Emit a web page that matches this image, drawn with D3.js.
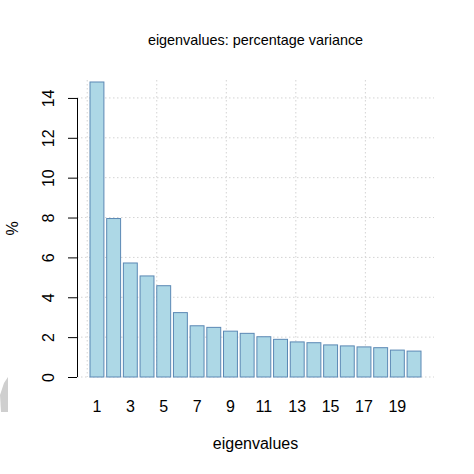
<!DOCTYPE html>
<html>
<head>
<meta charset="utf-8">
<script src="https://cdn.jsdelivr.net/npm/d3@7"></script>
<style>
  body { margin: 0; background: #fff; }
  text { font-family: "Liberation Sans", Arial, sans-serif; fill: #000; }
</style>
</head>
<body>
<script>
// eigenvalue index and percentage of variance
const eigenIndex = d3.range(1, 21);
const percentVariance = [14.8, 7.95, 5.72, 5.07, 4.58, 3.23, 2.57, 2.49, 2.3, 2.19,
                         2.02, 1.89, 1.76, 1.72, 1.61, 1.56, 1.51, 1.47, 1.35, 1.3];
const yTicks = [0, 2, 4, 6, 8, 10, 12, 14];
const xLabelIndex = [1, 3, 5, 7, 9, 11, 13, 15, 17, 19];
const gridUnits = [0, 5, 10, 15, 20];   // grid positions in barplot units

const width = 474, height = 474;

const svg = d3.select("body").append("svg")
    .attr("width", width)
    .attr("height", height);

// plot region
const plotLeft = 77, plotRight = 434, plotTop = 80, plotBottom = 377;

// bars: width 1, space 0.2 like R barplot
const xBand = d3.scaleBand()
    .domain(eigenIndex)
    .range([90, 421])
    .paddingInner(0.2 / 1.2)
    .paddingOuter(0);

const xUnit = d3.scaleLinear()
    .domain([0.2, 24])
    .range([90, 421]);

const yScale = d3.scaleLinear()
    .domain([0, 14.9])
    .range([plotBottom, plotTop]);

// grid
const grid = svg.append("g")
    .attr("stroke", "#d3d3d3")
    .attr("stroke-dasharray", "1.5,2.5")
    .attr("stroke-width", 1);

grid.selectAll("line.h")
    .data(yTicks)
    .enter().append("line")
    .attr("class", "h")
    .attr("x1", plotLeft)
    .attr("x2", plotRight)
    .attr("y1", d => yScale(d))
    .attr("y2", d => yScale(d));

grid.selectAll("line.v")
    .data(gridUnits)
    .enter().append("line")
    .attr("class", "v")
    .attr("x1", d => xUnit(d))
    .attr("x2", d => xUnit(d))
    .attr("y1", plotTop)
    .attr("y2", plotBottom);

// bars
svg.selectAll("rect.bar")
    .data(percentVariance)
    .enter().append("rect")
    .attr("class", "bar")
    .attr("x", (d, i) => xBand(eigenIndex[i]))
    .attr("y", d => yScale(d))
    .attr("width", xBand.bandwidth())
    .attr("height", d => yScale(0) - yScale(d))
    .attr("fill", "#add8e6")
    .attr("stroke", "#5b88b4")
    .attr("stroke-width", 1);

// y axis, R style: line only between first and last tick
const yAxis = svg.append("g")
    .attr("transform", "translate(" + plotLeft + ",0)")
    .call(d3.axisLeft(yScale).tickValues(yTicks).tickSize(9).tickSizeOuter(0));

yAxis.select(".domain").remove();
yAxis.append("line")
    .attr("x1", 0.5).attr("x2", 0.5)
    .attr("y1", yScale(0)).attr("y2", yScale(14))
    .attr("stroke", "#000");
yAxis.selectAll(".tick line").attr("stroke", "#000");
yAxis.selectAll(".tick text")
    .attr("x", 0)
    .attr("dy", 0)
    .attr("transform", "translate(-23,0) rotate(-90)")
    .style("text-anchor", "middle")
    .style("font-size", "16px")
    .style("font-family", "'Liberation Sans', Arial, sans-serif")
    .attr("fill", "#000");

// x labels under odd bars, no axis line
svg.selectAll("text.xlab")
    .data(xLabelIndex)
    .enter().append("text")
    .attr("class", "xlab")
    .attr("x", d => xBand(d) + xBand.bandwidth() / 2)
    .attr("y", 412)
    .attr("text-anchor", "middle")
    .style("font-size", "16px")
    .text(d => d);

// titles
svg.append("text")
    .attr("x", (plotLeft + plotRight) / 2)
    .attr("y", 45)
    .attr("text-anchor", "middle")
    .style("font-size", "14.4px")
    .text("eigenvalues: percentage variance");

svg.append("text")
    .attr("x", (plotLeft + plotRight) / 2)
    .attr("y", 449)
    .attr("text-anchor", "middle")
    .style("font-size", "16px")
    .text("eigenvalues");

svg.append("text")
    .attr("transform", "translate(18," + (plotTop + plotBottom) / 2 + ") rotate(-90)")
    .attr("text-anchor", "middle")
    .style("font-size", "16px")
    .text("%");

// grey scrap at the left edge of the picture
svg.append("path")
    .attr("d", "M8,377 L8,412 L1,412 L0,395 L4,383 Z")
    .attr("fill", "#cfcfcf");
</script>
</body>
</html>
